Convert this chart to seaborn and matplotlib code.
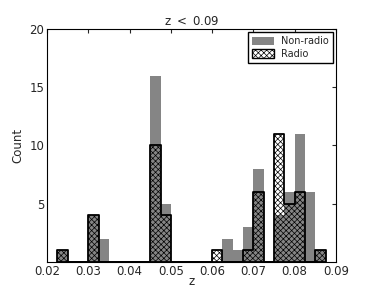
import numpy as np
import matplotlib
matplotlib.use("Agg")
import matplotlib.pyplot as plt
from matplotlib.patches import Patch
import seaborn as sns

# Data: counts per redshift bin (bin width 0.0025, first edge 0.0225)
bin_edges = [0.0225 + 0.0025 * i for i in range(27)]
nonradio = [1, 0, 0, 4, 2, 0, 0, 0, 0, 16, 5, 0, 0, 0, 0,
            0, 2, 1, 3, 8, 0, 4, 6, 11, 6, 1]
radio = [1, 0, 0, 4, 0, 0, 0, 0, 0, 10, 4, 0, 0, 0, 0,
         1, 0, 0, 1, 6, 0, 11, 5, 6, 0, 1]
xticks = [0.02, 0.03, 0.04, 0.05, 0.06, 0.07, 0.08, 0.09]
yticks = [5, 10, 15, 20]

centers = [(bin_edges[i] + bin_edges[i + 1]) / 2 for i in range(len(nonradio))]

sns.set_style("white")
plt.rcParams["font.family"] = ["DejaVu Sans"]
plt.rcParams["hatch.linewidth"] = 0.5

fig = plt.figure(figsize=(3.74, 2.91), dpi=100)
ax = fig.add_axes([0.126, 0.1, 0.772, 0.8])

sns.histplot(x=centers, weights=nonradio, bins=bin_edges, element="bars",
             color="#858585", alpha=1, linewidth=0, ax=ax)
sns.histplot(x=centers, weights=radio, bins=bin_edges, element="step",
             fill=True, color="k", linewidth=1.3, ax=ax)
poly = ax.collections[-1]
poly.set_facecolor("none")
poly.set_edgecolor("k")
poly.set_hatch("xxxxxx")

ax.set_xlim(0.02, 0.09)
ax.set_ylim(0, 20)
ax.set_xticks(xticks)
ax.set_xticklabels([f"{t:.2f}" for t in xticks])
ax.set_yticks(yticks)
ax.tick_params(direction="in", top=True, right=True, labelsize=8.5, length=3, pad=2)
for s in ax.spines.values():
    s.set_color("k")
    s.set_linewidth(0.8)

ax.set_xlabel("z", fontsize=8.5, labelpad=-2)
ax.set_ylabel("Count", fontsize=8.5, labelpad=4)
ax.set_title(r"z $<$ 0.09", fontsize=8.5, pad=3)

handles = [Patch(facecolor="#858585", edgecolor="none", label="Non-radio"),
           Patch(facecolor="none", edgecolor="k", hatch="xxxxxx", label="Radio")]
ax.legend(handles=handles, loc="upper right", fontsize=7, frameon=True,
          fancybox=False, edgecolor="k", framealpha=1, borderpad=0.4,
          handlelength=2.2, handleheight=0.9, labelspacing=0.3,
          borderaxespad=0.3)

fig.savefig("out.png", dpi=100)
